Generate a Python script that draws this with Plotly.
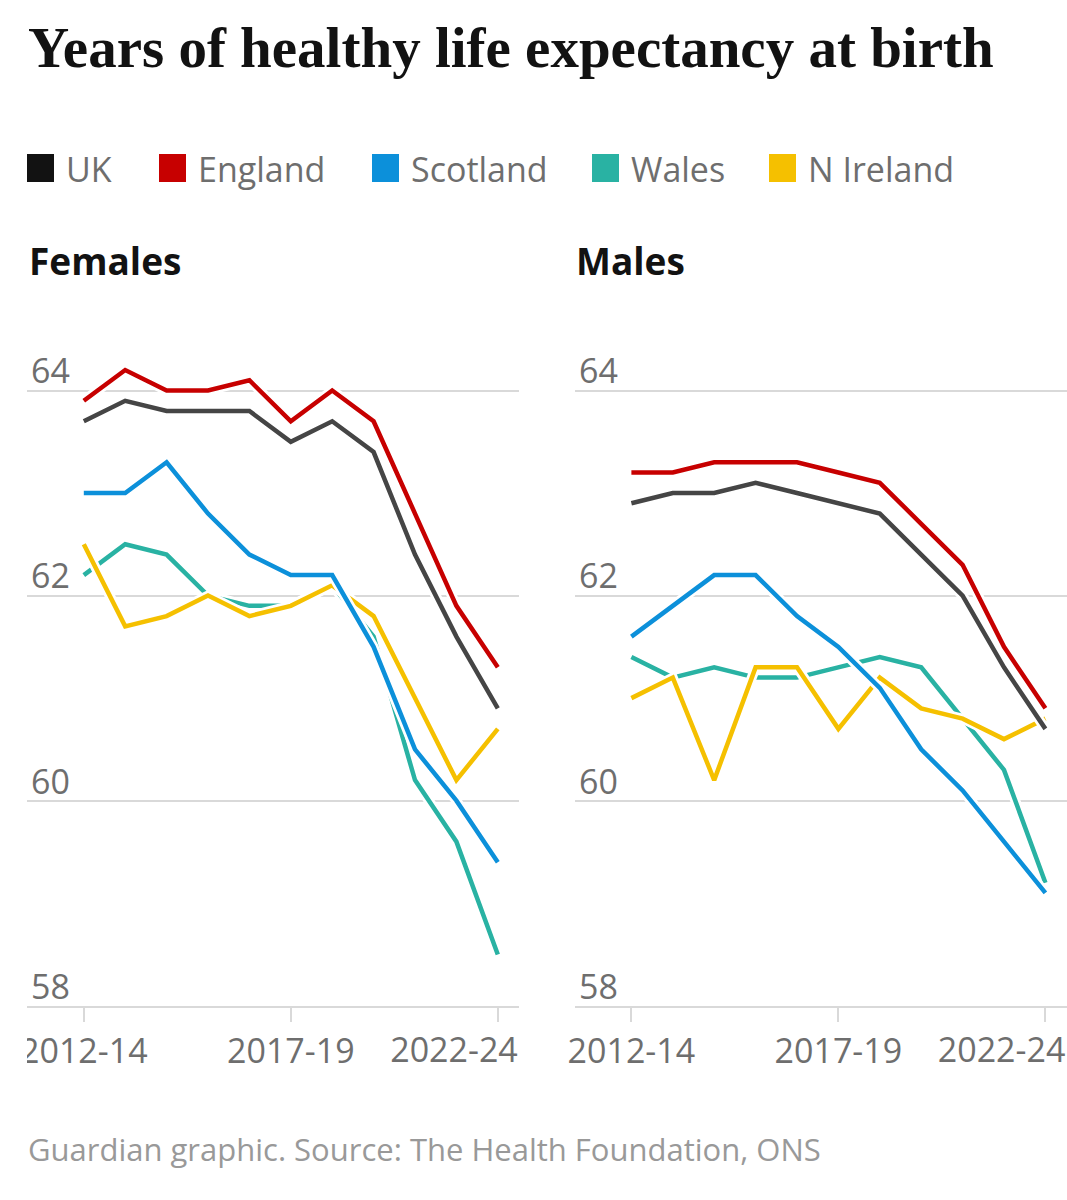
import plotly.graph_objects as go

# ---------------- data ----------------
periods = ["2012-14", "2013-15", "2014-16", "2015-17", "2016-18", "2017-19",
           "2018-20", "2019-21", "2020-22", "2021-23", "2022-24"]
tick_periods = ["2012-14", "2017-19", "2022-24"]
y_ticks = [58, 60, 62, 64]

nations = ["UK", "England", "Scotland", "Wales", "N Ireland"]

female_uk = [63.7, 63.9, 63.8, 63.8, 63.8, 63.5, 63.7, 63.4, 62.4, 61.6, 60.9]
female_england = [63.9, 64.2, 64.0, 64.0, 64.1, 63.7, 64.0, 63.7, 62.8, 61.9, 61.3]
female_scotland = [63.0, 63.0, 63.3, 62.8, 62.4, 62.2, 62.2, 61.5, 60.5, 60.0, 59.4]
female_wales = [62.2, 62.5, 62.4, 62.0, 61.9, 61.9, 62.1, 61.6, 60.2, 59.6, 58.5]
female_nireland = [62.5, 61.7, 61.8, 62.0, 61.8, 61.9, 62.1, 61.8, 61.0, 60.2, 60.7]

male_uk = [62.9, 63.0, 63.0, 63.1, 63.0, 62.9, 62.8, 62.4, 62.0, 61.3, 60.7]
male_england = [63.2, 63.2, 63.3, 63.3, 63.3, 63.2, 63.1, 62.7, 62.3, 61.5, 60.9]
male_scotland = [61.6, 61.9, 62.2, 62.2, 61.8, 61.5, 61.1, 60.5, 60.1, 59.6, 59.1]
male_wales = [61.4, 61.2, 61.3, 61.2, 61.2, 61.3, 61.4, 61.3, 60.8, 60.3, 59.2]
male_nireland = [61.0, 61.2, 60.2, 61.3, 61.3, 60.7, 61.2, 60.9, 60.8, 60.6, 60.8]

# ---------------- styles ----------------
W, H = 1067, 1200
legend_colors = {"UK": "#121212", "England": "#c70000", "Scotland": "#0c90da",
                 "Wales": "#29b2a3", "N Ireland": "#f5c000"}
line_colors = {"UK": "#454545", "England": "#c70000", "Scotland": "#0c90da",
               "Wales": "#29b2a3", "N Ireland": "#f5c000"}
draw_order = ["Wales", "N Ireland", "Scotland", "England", "UK"]

female = {"UK": female_uk, "England": female_england, "Scotland": female_scotland,
          "Wales": female_wales, "N Ireland": female_nireland}
male = {"UK": male_uk, "England": male_england, "Scotland": male_scotland,
        "Wales": male_wales, "N Ireland": male_nireland}


def px_x(p):
    return p / W


def px_y(p):
    return 1 - p / H


fig = go.Figure()

for panel, data in (("x", female), ("x2", male)):
    yref = "y" if panel == "x" else "y2"
    for name in draw_order:
        fig.add_trace(go.Scatter(x=periods, y=data[name], mode="lines",
                                 line=dict(color="white", width=10),
                                 xaxis=panel, yaxis=yref, showlegend=False,
                                 hoverinfo="skip"))
        fig.add_trace(go.Scatter(x=periods, y=data[name], mode="lines", name=name,
                                 line=dict(color=line_colors[name], width=4.5),
                                 xaxis=panel, yaxis=yref, showlegend=False))

# empty traces so that the overlay axes carrying the last x label are drawn
for xa, ya in (("x3", "y"), ("x4", "y2")):
    fig.add_trace(go.Scatter(x=[], y=[], mode="lines", xaxis=xa, yaxis=ya,
                             showlegend=False, hoverinfo="skip"))

ydom = [px_y(1005.7), px_y(329)]
yrange = [58, 64.6]
grid_col = "#d9d9d9"
tick_font = dict(family="Open Sans", size=34, color="#6e6e6e")

# main x axes: tick marks for all three, labels for the first two
common_x = dict(type="category", categoryorder="array", categoryarray=periods,
                tickmode="array", tickvals=tick_periods,
                ticktext=tick_periods[:-1] + [""], showgrid=False, zeroline=False,
                showline=True, linecolor=grid_col, linewidth=2,
                ticks="outside", ticklen=14, tickwidth=2, tickcolor=grid_col,
                tickfont=tick_font, fixedrange=True, automargin=False)
# overlay x axes (category index scale): the last label, right-aligned to the panel edge
last_idx = periods.index(tick_periods[-1])
last_x = dict(type="linear", tickmode="array", tickvals=[last_idx],
              ticktext=tick_periods[-1:],
              showgrid=False, zeroline=False, showline=False,
              ticks="outside", ticklen=14, tickwidth=2, tickcolor="rgba(0,0,0,0)",
              ticklabelposition="outside left", ticklabelshift=21,
              ticklabeloverflow="allow", anchor="free", position=px_y(1020),
              tickfont=tick_font, fixedrange=True, automargin=False)
common_y = dict(range=yrange, tickmode="array", tickvals=y_ticks, showgrid=True,
                gridcolor=grid_col, gridwidth=2, zeroline=False, showline=False,
                ticks="", ticklabelposition="inside", ticklabelstandoff=1,
                ticklabelshift=-19, ticklabeloverflow="allow",
                tickfont=tick_font, domain=ydom,
                fixedrange=True, automargin=False)

fdom = [px_x(27), px_x(519)]
fr = [-1.372, 10.512]
mdom = [px_x(575), 1.0]
mr = [-1.362, 10.522]

fig.update_layout(
    width=W, height=H,
    margin=dict(l=0, r=0, t=0, b=0, pad=0, autoexpand=False),
    paper_bgcolor="white", plot_bgcolor="white", showlegend=False,
    xaxis=dict(domain=fdom, range=fr, anchor="y", **common_x),
    yaxis=dict(anchor="x", **common_y),
    xaxis2=dict(domain=mdom, range=mr, anchor="y2", **common_x),
    yaxis2=dict(anchor="x2", **common_y),
    xaxis3=dict(domain=fdom, range=fr, overlaying="x", **last_x),
    xaxis4=dict(domain=mdom, range=mr, overlaying="x2", **last_x),
)

annotations = []
shapes = []

# Title
annotations.append(dict(text="<b>Years of healthy life expectancy at birth</b>",
                        xref="paper", yref="paper", x=px_x(26), y=px_y(47),
                        xanchor="left", yanchor="middle", showarrow=False,
                        font=dict(family="Liberation Serif", size=57, color="#121212")))

# Legend (manual, square swatches)
legend_x = [27, 159, 372, 592, 769]
for name, lx in zip(nations, legend_x):
    shapes.append(dict(type="rect", xref="paper", yref="paper",
                       x0=px_x(lx), x1=px_x(lx + 27), y0=px_y(182), y1=px_y(154),
                       fillcolor=legend_colors[name], line=dict(width=0)))
    annotations.append(dict(text=name, xref="paper", yref="paper",
                            x=px_x(lx + 37), y=px_y(169), xanchor="left",
                            yanchor="middle", showarrow=False,
                            font=dict(family="Open Sans", size=34, color="#6e6e6e")))

# Panel titles
for label, lx in (("Females", 27), ("Males", 574)):
    annotations.append(dict(text="<b>" + label + "</b>", xref="paper", yref="paper",
                            x=px_x(lx), y=px_y(260), xanchor="left", yanchor="middle",
                            showarrow=False,
                            font=dict(family="Open Sans", size=37, color="#121212")))

# Source
annotations.append(dict(text="Guardian graphic. Source: The Health Foundation, ONS",
                        xref="paper", yref="paper", x=px_x(26), y=px_y(1149),
                        xanchor="left", yanchor="middle", showarrow=False,
                        font=dict(family="Open Sans", size=31, color="#999999")))

# clip of first female x tick label at the panel edge (as in the original)
shapes.append(dict(type="rect", xref="paper", yref="paper", layer="above",
                   x0=0, x1=px_x(27), y0=px_y(1085), y1=px_y(1012),
                   fillcolor="white", line=dict(width=0)))

fig.update_layout(annotations=annotations, shapes=shapes)

fig.write_html("out.html")
